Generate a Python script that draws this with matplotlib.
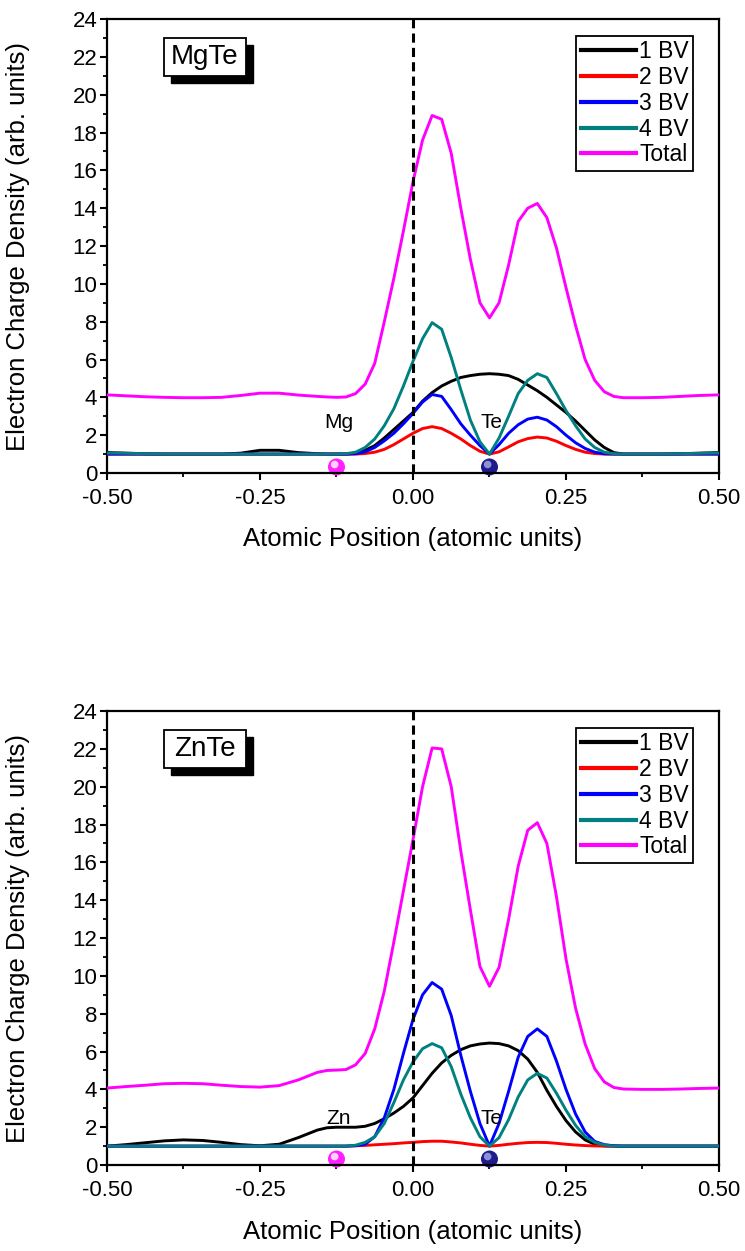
import matplotlib
matplotlib.use("Agg")
import matplotlib.pyplot as plt
from matplotlib.patches import Rectangle

plt.rcParams['font.family'] = ['Liberation Sans', 'DejaVu Sans']

# ---------------- data ----------------
x_pos = [-0.5, -0.46875, -0.4375, -0.40625, -0.375, -0.34375, -0.3125, -0.28125, -0.25, -0.21875, -0.1875,
         -0.15625, -0.140625, -0.125, -0.109375, -0.09375, -0.078125, -0.0625, -0.046875, -0.03125, -0.015625,
         0.0, 0.015625, 0.03125, 0.046875, 0.0625, 0.078125, 0.09375, 0.109375, 0.125, 0.140625, 0.15625,
         0.171875, 0.1875, 0.203125, 0.21875, 0.234375, 0.25, 0.265625, 0.28125, 0.296875, 0.3125, 0.328125,
         0.34375, 0.375, 0.40625, 0.4375, 0.46875, 0.5]

series_labels = ['1 BV', '2 BV', '3 BV', '4 BV', 'Total']

mgte_1bv = [1.08, 1.05, 1.02, 1.0, 1.0, 1.0, 1.0, 1.05, 1.2, 1.2, 1.08,
            1.02, 1.0, 1.0, 1.0, 1.05, 1.2, 1.45, 1.85, 2.3, 2.75, 3.2, 3.8, 4.25, 4.6, 4.85, 5.05, 5.15, 5.22,
            5.25, 5.22, 5.15, 4.95, 4.65, 4.35, 4.0, 3.6, 3.2, 2.75, 2.25, 1.75, 1.35, 1.08, 1.0,
            1.0, 1.0, 1.02, 1.05, 1.08]
mgte_2bv = [1.0] * 11 + \
           [1.0, 1.0, 1.0, 1.0, 1.0, 1.03, 1.1, 1.25, 1.5, 1.8, 2.1, 2.35, 2.45, 2.35, 2.1, 1.8, 1.45, 1.15,
            1.0, 1.12, 1.38, 1.65, 1.82, 1.9, 1.85, 1.68, 1.45, 1.25, 1.1, 1.03, 1.0, 1.0, 1.0] + [1.0] * 5
mgte_3bv = [1.0] * 11 + \
           [1.0, 1.0, 1.0, 1.0, 1.02, 1.12, 1.35, 1.7, 2.1, 2.6, 3.15, 3.75, 4.15, 4.05, 3.35, 2.6, 2.0, 1.45,
            1.0, 1.5, 2.1, 2.55, 2.85, 2.95, 2.8, 2.45, 2.0, 1.6, 1.3, 1.1, 1.02, 1.0, 1.0] + [1.0] * 5
mgte_4bv = [1.06, 1.04, 1.02, 1.0, 1.0, 1.0, 1.0, 1.0, 1.0, 1.0, 1.0,
            1.0, 1.0, 1.0, 1.02, 1.1, 1.35, 1.8, 2.5, 3.4, 4.6, 5.9, 7.1, 7.95, 7.6, 6.1, 4.4, 2.8, 1.65,
            1.0, 1.85, 3.0, 4.2, 4.9, 5.25, 5.05, 4.2, 3.3, 2.5, 1.8, 1.35, 1.1, 1.02, 1.0,
            1.0, 1.0, 1.02, 1.04, 1.06]
mgte_total = [4.13, 4.08, 4.03, 4.0, 3.98, 3.98, 4.0, 4.1, 4.22, 4.22, 4.12,
              4.05, 4.02, 4.0, 4.02, 4.2, 4.7, 5.8, 8.0, 10.3, 12.8, 15.4, 17.6, 18.9, 18.7, 16.9, 14.0, 11.3,
              9.0, 8.2, 9.0, 11.0, 13.3, 14.0, 14.25, 13.5, 11.9, 9.8, 7.8, 6.0, 4.9, 4.3, 4.05, 3.98,
              3.98, 4.0, 4.05, 4.1, 4.13]

znte_1bv = [1.0, 1.08, 1.18, 1.28, 1.33, 1.3, 1.2, 1.08, 1.02, 1.1, 1.45,
            1.85, 1.97, 2.0, 2.0, 2.0, 2.05, 2.2, 2.45, 2.75, 3.1, 3.55, 4.2, 4.85, 5.4, 5.8, 6.1, 6.3, 6.4,
            6.45, 6.42, 6.3, 6.05, 5.6, 4.9, 3.95, 3.1, 2.35, 1.75, 1.33, 1.1, 1.02, 1.0, 1.0,
            1.0, 1.0, 1.0, 1.0, 1.0]
znte_2bv = [1.0] * 11 + \
           [1.0, 1.0, 1.0, 1.0, 1.02, 1.04, 1.07, 1.1, 1.13, 1.17, 1.2, 1.24, 1.26, 1.26, 1.22, 1.17, 1.1, 1.04,
            1.0, 1.04, 1.1, 1.15, 1.19, 1.2, 1.19, 1.15, 1.1, 1.06, 1.03, 1.01, 1.0, 1.0, 1.0] + [1.0] * 5
znte_3bv = [1.0] * 11 + \
           [1.0, 1.0, 1.0, 1.0, 1.02, 1.1, 1.5, 2.5, 4.0, 5.9, 7.7, 9.0, 9.65, 9.3, 7.9, 5.8, 3.9, 2.2,
            1.0, 2.2, 3.9, 5.7, 6.8, 7.2, 6.8, 5.5, 4.0, 2.7, 1.75, 1.25, 1.08, 1.02, 1.0] + [1.0] * 5
znte_4bv = [1.0] * 11 + \
           [1.0, 1.0, 1.0, 1.0, 1.05, 1.2, 1.5, 2.2, 3.3, 4.5, 5.45, 6.15, 6.42, 6.2, 5.2, 3.75, 2.5, 1.5,
            1.0, 1.45, 2.4, 3.6, 4.5, 4.85, 4.6, 3.8, 2.9, 2.1, 1.5, 1.2, 1.06, 1.0, 1.0] + [1.0] * 5
znte_total = [4.07, 4.15, 4.22, 4.3, 4.32, 4.3, 4.22, 4.15, 4.12, 4.2, 4.5,
              4.9, 5.0, 5.02, 5.05, 5.3, 5.9, 7.2, 9.2, 11.8, 14.5, 17.2, 20.0, 22.05, 22.0, 20.0, 16.6, 13.5,
              10.5, 9.45, 10.45, 13.0, 15.8, 17.7, 18.1, 17.0, 14.2, 10.9, 8.3, 6.4, 5.1, 4.4, 4.1, 4.02,
              4.0, 4.0, 4.02, 4.05, 4.07]

atom_x = [-0.125, 0.125]
compound_names = ['MgTe', 'ZnTe']
atom_labels = [['Mg', 'Te'], ['Zn', 'Te']]
atom_label_y = [2.65, 2.45]

x_ticks = [-0.50, -0.25, 0.00, 0.25, 0.50]
x_ticklabels = ['-0.50', '-0.25', '0.00', '0.25', '0.50']
y_ticks = list(range(0, 25, 2))

colors = ['#000000', '#FF0000', '#0000FF', '#008080', '#FF00FF']
atom_colors = ['#FF22FF', '#1C1C8C']
atom_hl = ['#FFD0FF', '#8F8FD8']

# ---------------- figure ----------------
fig = plt.figure(figsize=(7.45, 12.51), dpi=100)
ax_top = fig.add_axes([0.1436, 0.6219, 0.8215, 0.3629])
ax_bot = fig.add_axes([0.1436, 0.0687, 0.8215, 0.3629])

panels = [
    (ax_top, [mgte_1bv, mgte_2bv, mgte_3bv, mgte_4bv, mgte_total]),
    (ax_bot, [znte_1bv, znte_2bv, znte_3bv, znte_4bv, znte_total]),
]

for i, (ax, curves) in enumerate(panels):
    for y, c, lab in zip(curves, colors, series_labels):
        ax.plot(x_pos, y, color=c, lw=2.1, label=lab, zorder=3)
    ax.axvline(0.0, color='black', lw=2.2, dashes=(3.0, 1.7), zorder=4)

    ax.set_xlim(-0.5, 0.5)
    ax.set_ylim(0, 24)
    ax.set_xticks(x_ticks)
    ax.set_xticklabels(x_ticklabels)
    ax.set_xticks([-0.375, -0.125, 0.125, 0.375], minor=True)
    ax.set_yticks(y_ticks)
    ax.set_yticks(list(range(1, 24, 2)), minor=True)
    ax.tick_params(axis='both', which='major', direction='out', length=5, width=1.5,
                   labelsize=16, top=False, right=False)
    ax.tick_params(axis='y', which='major', pad=2)
    ax.tick_params(axis='x', which='major', pad=6)
    ax.tick_params(axis='both', which='minor', direction='out', length=3, width=1.3,
                   top=False, right=False)
    for s in ax.spines.values():
        s.set_linewidth(1.6)

    ax.set_xlabel('Atomic Position (atomic units)', fontsize=18.5)
    ax.set_ylabel('Electron Charge Density (arb. units)', fontsize=18.5)
    ax.xaxis.set_label_coords(0.5, -0.12)
    ax.yaxis.set_label_coords(-0.125, 0.5)

    leg = ax.legend(loc='upper right', bbox_to_anchor=(0.958, 0.963), fontsize=16.5,
                    frameon=True, fancybox=False, framealpha=1, edgecolor='black',
                    handlelength=2.4, handletextpad=0.15, labelspacing=0.12,
                    borderpad=0.2, borderaxespad=0.0)
    leg.get_frame().set_linewidth(1.3)
    for h in leg.get_lines():
        h.set_linewidth(3.0)

    # compound label box with shadow
    bx, by, bw, bh = 0.093, 0.874, 0.134, 0.084
    ax.add_patch(Rectangle((bx + 0.0115, by - 0.0155), bw, bh, transform=ax.transAxes,
                           facecolor='black', edgecolor='black', lw=1.0, zorder=5))
    ax.add_patch(Rectangle((bx, by), bw, bh, transform=ax.transAxes,
                           facecolor='white', edgecolor='black', lw=1.3, zorder=6))
    ax.text(bx + bw / 2, by + bh / 2, compound_names[i], transform=ax.transAxes, fontsize=20,
            ha='center', va='center', color='black', zorder=7)

    # atoms
    for xa, col, hl, lab in zip(atom_x, atom_colors, atom_hl, atom_labels[i]):
        ax.scatter([xa], [0.32], s=150, color=col, zorder=2.4, clip_on=False, edgecolors='none')
        ax.scatter([xa - 0.003], [0.45], s=30, color=hl, zorder=2.45, clip_on=False, edgecolors='none')
        ax.text(xa + 0.003, atom_label_y[i], lab, fontsize=15, ha='center', va='center', zorder=5)

fig.savefig('out.png', dpi=100)
